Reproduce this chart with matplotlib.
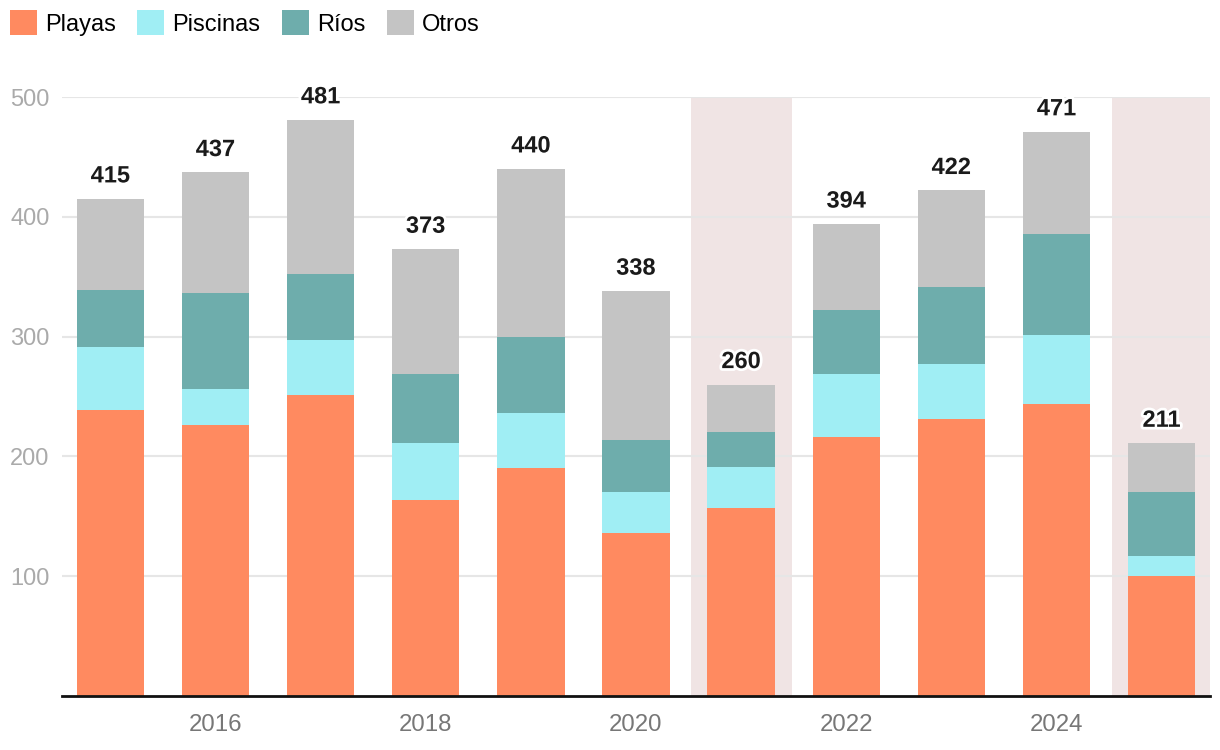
import matplotlib
matplotlib.use("Agg")
import matplotlib.pyplot as plt
import matplotlib.patheffects as pe
from matplotlib.patches import Patch
import numpy as np

plt.rcParams["font.family"] = ["Liberation Sans", "DejaVu Sans"]

# datos
years    = [2015, 2016, 2017, 2018, 2019, 2020, 2021, 2022, 2023, 2024, 2025]
playas   = [239, 226, 251, 164, 190, 136, 157, 216, 231, 244, 100]
piscinas = [52, 30, 46, 47, 46, 34, 34, 53, 46, 57, 17]
rios     = [48, 80, 55, 58, 64, 44, 29, 53, 64, 85, 53]
otros    = [76, 101, 129, 104, 140, 124, 40, 72, 81, 85, 41]
highlight_years = [2021, 2025]
series_names = ["Playas", "Piscinas", "Ríos", "Otros"]
xticks = [2016, 2018, 2020, 2022, 2024]
yticks = [100, 200, 300, 400, 500]

COLORS = ["#ff8a60", "#a0eef4", "#6eadac", "#c4c4c4"]
SHADE  = "#f0e4e4"
GRID   = "#e6e6e6"

fig = plt.figure(figsize=(12.2, 7.5), dpi=100)
ax = fig.add_axes([62 / 1220, 54 / 750, 1148 / 1220, 599 / 750])

x = np.array(years)
for hy in highlight_years:
    ax.axvspan(hy - 0.475, hy + 0.485, color=SHADE, lw=0, zorder=0)

bottom = np.zeros(len(years))
for name, vals, col in zip(series_names, [playas, piscinas, rios, otros], COLORS):
    ax.bar(x, vals, bottom=bottom, width=0.64, color=col, lw=0, zorder=2, label=name)
    bottom += np.array(vals)

for xi, tot in zip(x, bottom):
    ax.annotate(f"{int(tot)}", xy=(xi, tot), xytext=(0, 16.5), textcoords="offset points",
                ha="center", va="center", fontsize=17, fontweight="bold",
                color="#1a1a1a", zorder=5, annotation_clip=False,
                path_effects=[pe.withStroke(linewidth=4, foreground="white")])

ax.set_xlim(2014.54, 2025.46)
ax.set_ylim(0, 500)
ax.set_xticks(xticks)
ax.set_yticks(yticks)
ax.tick_params(axis="x", length=0, labelsize=17.3, colors="#777777", pad=13)
ax.tick_params(axis="y", length=0, labelsize=17, colors="#aaaaaa", pad=9)
ax.grid(axis="y", color=GRID, lw=1.5, zorder=1)
ax.set_axisbelow(True)
for s in ["top", "right", "left"]:
    ax.spines[s].set_visible(False)
ax.spines["bottom"].set_color("#111111")
ax.spines["bottom"].set_linewidth(2)
ax.spines["bottom"].set_zorder(3)

handles = [Patch(color=c, lw=0) for c in COLORS]
fig.legend(handles, series_names, loc="upper left", bbox_to_anchor=(10 / 1220, 1 - 10 / 750),
           ncol=4, frameon=False, fontsize=17, handlelength=1.15, handleheight=1.27,
           handletextpad=0.34, columnspacing=0.9, borderpad=0, borderaxespad=0)

fig.savefig("out.png", dpi=100, facecolor="white")
